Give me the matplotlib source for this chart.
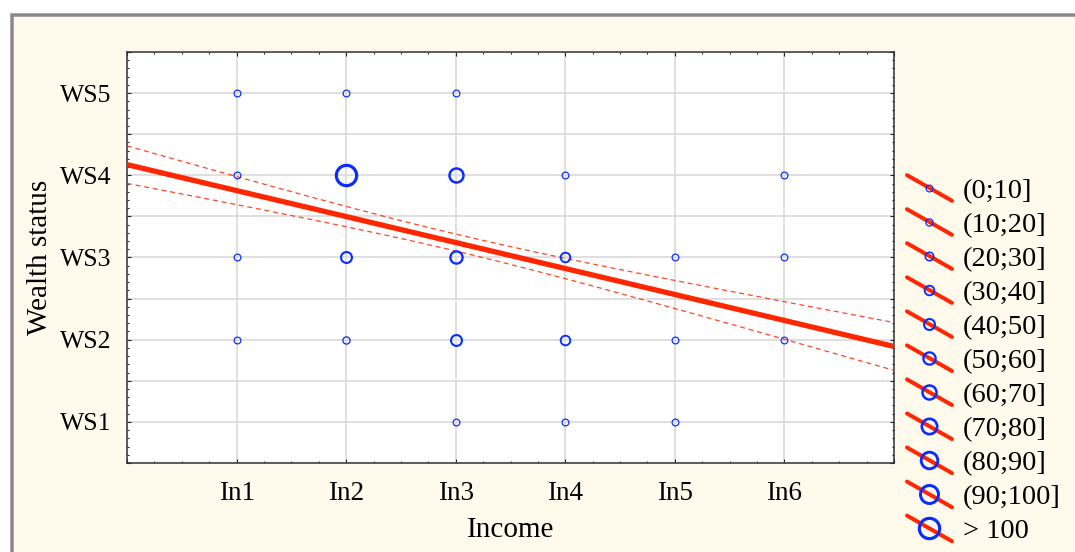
import numpy as np
import matplotlib
matplotlib.use("Agg")
import matplotlib.pyplot as plt
from matplotlib.lines import Line2D
from matplotlib.patches import Rectangle
from matplotlib.legend_handler import HandlerBase
from matplotlib.ticker import MultipleLocator

# categorias dos eixos
income_labels = ['In1', 'In2', 'In3', 'In4', 'In5', 'In6']
wealth_labels = ['WS1', 'WS2', 'WS3', 'WS4', 'WS5']

# pontos observados (posicao da categoria e classe de frequencia)
point_income = [1, 2, 3,
                1, 2, 3, 4, 6,
                1, 2, 3, 4, 5, 6,
                1, 2, 3, 4, 5, 6,
                3, 4, 5]
point_wealth = [5, 5, 5,
                4, 4, 4, 4, 4,
                3, 3, 3, 3, 3, 3,
                2, 2, 2, 2, 2, 2,
                1, 1, 1]
point_bin = [0, 0, 0,
             0, 10, 6, 0, 0,
             0, 4, 5, 3, 0, 0,
             0, 1, 4, 3, 0, 0,
             0, 0, 0]

bin_labels = ['(0;10]', '(10;20]', '(20;30]', '(30;40]', '(40;50]', '(50;60]',
              '(60;70]', '(70;80]', '(80;90]', '(90;100]', '> 100']

# reta de regressao e intervalo de confianca
fit_intercept = 4.13
fit_slope = -0.316
ci_base = 0.103
ci_spread = 0.068
ci_center = 3.0

# estilo
W, H = 1075, 552
red = '#ff2600'
blue = '#0a2eff'
cream = '#fffaec'
diam_px = [8, 8.5, 10, 11.5, 13, 14.5, 16.5, 18, 19.5, 21, 23.5]
edge_px = [1.2, 1.3, 1.6, 1.9, 2.1, 2.3, 2.5, 2.7, 2.9, 3.0, 3.2]
px = 72 / 100

plt.rcParams['font.family'] = ['Liberation Serif', 'DejaVu Serif']

fig = plt.figure(figsize=(W / 100, H / 100), dpi=100, facecolor='white')

# moldura creme com borda cinza
fig.patches.append(Rectangle((12 / W, -0.2), 1.5, (1 - 15 / H) + 0.2,
                             transform=fig.transFigure, fc=cream, ec='#8a8a8a',
                             lw=3.5 * px, zorder=-10))

ax = fig.add_axes([127 / W, 1 - 463 / H, (894 - 127) / W, (463 - 52) / H])
ax.set_facecolor('white')

ax.set_xlim(0, 7)
ax.set_ylim(0.5, 5.5)

ax.set_xticks(np.arange(0, 8))
ax.set_xticklabels([''] + income_labels + [''])
ax.xaxis.set_minor_locator(MultipleLocator(0.25))
ax.set_yticks(np.arange(0.5, 5.51, 0.5))
ylabs = []
for v in np.arange(0.5, 5.51, 0.5):
    ylabs.append(wealth_labels[int(v) - 1] if float(v).is_integer() else '')
ax.set_yticklabels(ylabs)
ax.yaxis.set_minor_locator(MultipleLocator(0.1))

ax.tick_params(which='both', direction='in', top=True, right=True,
               color='#222222', width=0.8)
ax.tick_params(which='major', length=4 * px)
ax.tick_params(which='minor', length=2.5 * px)
ax.tick_params(axis='x', pad=13, labelsize=19.5)
ax.tick_params(axis='y', pad=11, labelsize=18.5)

ax.grid(True, which='major', color='#dcdcdc', lw=1.3, zorder=0)
for s in ax.spines.values():
    s.set_color('#333333')
    s.set_linewidth(1.1)

ax.set_xlabel('Income', fontsize=21, labelpad=8)
ax.set_ylabel('Wealth status', fontsize=21, labelpad=5)

# reta ajustada e bandas
xs = np.linspace(0, 7, 300)
yfit = fit_intercept + fit_slope * xs
half = np.sqrt(ci_base ** 2 + (ci_spread * (xs - ci_center)) ** 2)
ax.plot(xs, yfit, color=red, lw=5.3 * px, zorder=3, solid_capstyle='butt')
ax.plot(xs, yfit + half, color=red, lw=0.9, ls=(0, (4, 3)), zorder=3, alpha=0.85)
ax.plot(xs, yfit - half, color=red, lw=0.9, ls=(0, (4, 3)), zorder=3, alpha=0.85)

# pontos
for xi, yi, b in zip(point_income, point_wealth, point_bin):
    ax.plot(xi, yi, marker='o', ls='none', mfc='none', mec=blue,
            ms=(diam_px[b] - edge_px[b]) * px, mew=edge_px[b] * px, zorder=5)


class DiagHandler(HandlerBase):
    def create_artists(self, legend, orig_handle, xdescent, ydescent,
                       width, height, fontsize, trans):
        x0 = -xdescent
        x1 = x0 + width
        yc = -ydescent + height / 2
        dy = 0.285 * width
        ln = Line2D([x0, x1], [yc + dy, yc - dy], color=red, lw=4 * px,
                    solid_capstyle='round', transform=trans)
        mk = Line2D([(x0 + x1) / 2], [yc], marker='o', ls='none', mfc='none',
                    mec=blue, ms=orig_handle.get_markersize(),
                    mew=orig_handle.get_markeredgewidth(), transform=trans)
        return [ln, mk]


handles = []
for b in range(len(bin_labels)):
    handles.append(Line2D([], [], marker='o', ms=(diam_px[b] - edge_px[b]) * px,
                          mew=edge_px[b] * px))

fig.legend(handles, bin_labels, handler_map={Line2D: DiagHandler()},
           loc='upper left', bbox_to_anchor=(907 / W, 1 - 178 / H),
           frameon=False, fontsize=20.5, borderpad=0, borderaxespad=0,
           handlelength=1.58, handletextpad=0.39, labelspacing=0.285)

fig.savefig('out.png', dpi=100, facecolor='white')
